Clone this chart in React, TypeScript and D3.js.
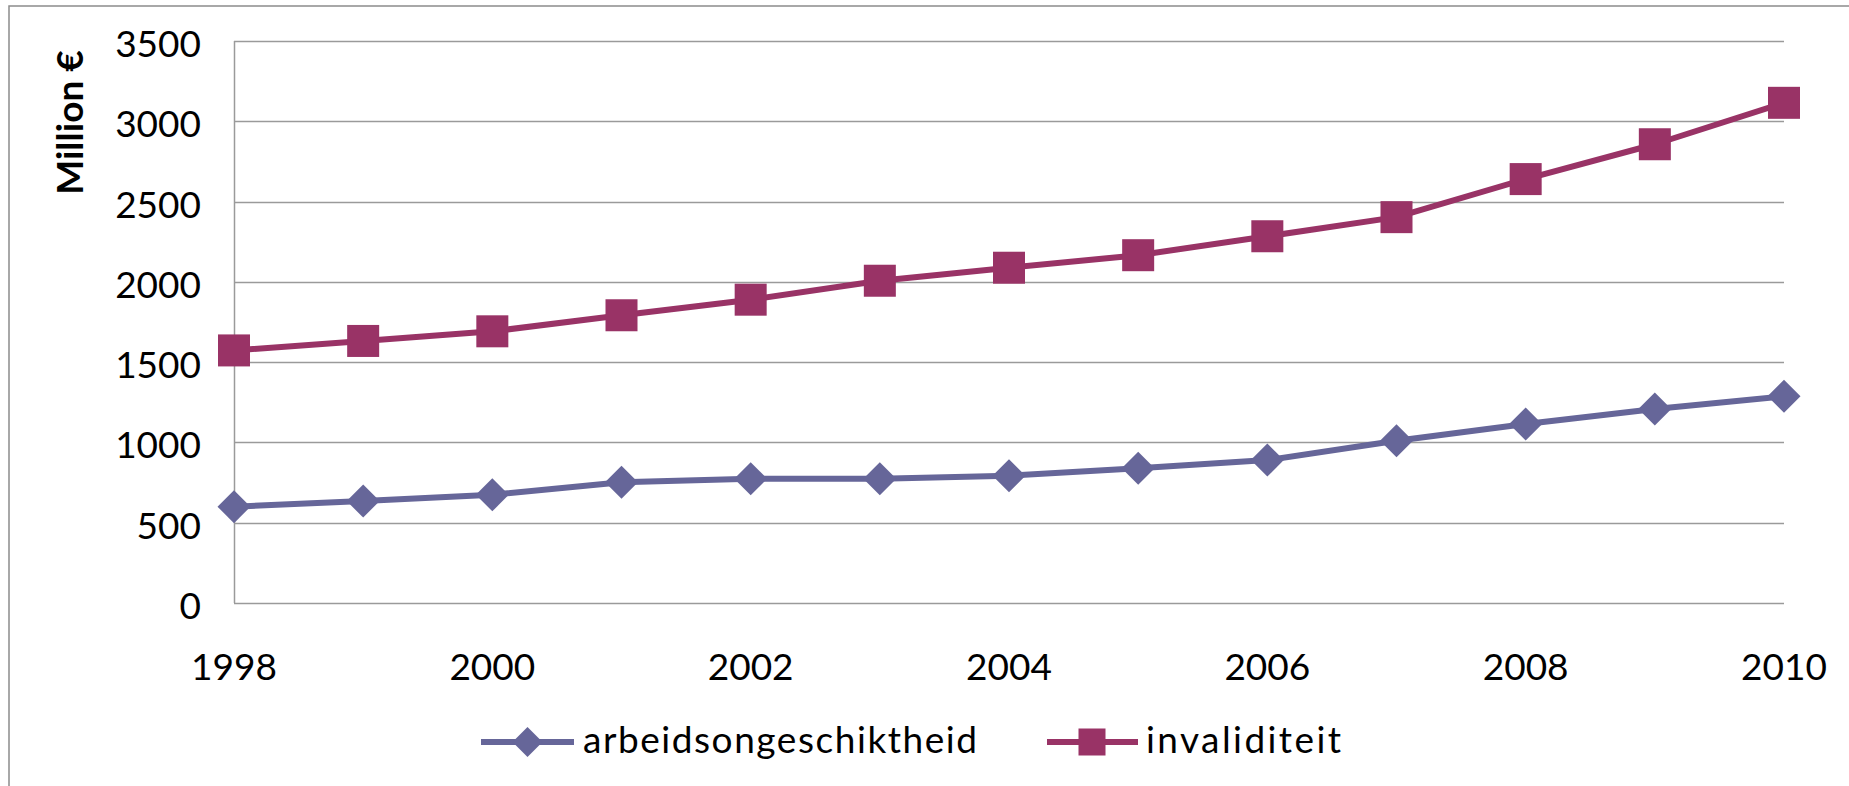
import React from "react";
import * as d3 from "d3";

// Yearly spending, million euro
const years = [1998, 1999, 2000, 2001, 2002, 2003, 2004, 2005, 2006, 2007, 2008, 2009, 2010];
const arbeidsongeschiktheid = [600, 635, 674, 752, 774, 774, 793, 839, 890, 1011, 1115, 1208, 1287];
const invaliditeit = [1573, 1632, 1692, 1792, 1889, 2007, 2088, 2166, 2284, 2403, 2640, 2857, 3115];
const yTicks = [0, 500, 1000, 1500, 2000, 2500, 3000, 3500];
const xTicks = [1998, 2000, 2002, 2004, 2006, 2008, 2010];
const seriesNames = ["arbeidsongeschiktheid", "invaliditeit"];

const W = 1849;
const H = 786;
const FONT = "Lato, 'Open Sans', sans-serif";
const GRID = "#9a9a9a";
const C_DIAMOND = "#666699";
const C_SQUARE = "#993366";

const plot = { left: 234, right: 1784, top: 41, bottom: 603 };

const x = d3.scaleLinear().domain([years[0], years[years.length - 1]]).range([plot.left, plot.right]);
const y = d3.scaleLinear().domain([0, 3500]).range([plot.bottom, plot.top]);

const lineGen = d3
  .line<[number, number]>()
  .x((d) => x(d[0]))
  .y((d) => y(d[1]));

const diamondPath = (cx: number, cy: number, r: number) =>
  `M${cx},${cy - r}L${cx + r},${cy}L${cx},${cy + r}L${cx - r},${cy}Z`;

export default function App() {
  const ptsA = years.map((yr, i) => [yr, arbeidsongeschiktheid[i]] as [number, number]);
  const ptsI = years.map((yr, i) => [yr, invaliditeit[i]] as [number, number]);
  const sq = 32;
  const dr = 16.5;
  const legendY = 742;

  return (
    <svg
      width={W}
      height={H}
      viewBox={`0 0 ${W} ${H}`}
      style={{ position: "absolute", left: 0, top: 0, background: "#fff" }}
    >
      {/* chart frame */}
      <rect x={9} y={6} width={W + 20} height={H + 20} fill="#fff" stroke="#8c8c8c" strokeWidth={1.5} />

      {/* horizontal gridlines and value axis labels */}
      {yTicks.map((t) => (
        <g key={t}>
          <line x1={plot.left} x2={plot.right} y1={Math.round(y(t)) + 0.5} y2={Math.round(y(t)) + 0.5} stroke={GRID} strokeWidth={1.5} />
          <text x={201} y={y(t) + 16} textAnchor="end" fontFamily={FONT} fontSize={37} fill="#000">
            {t}
          </text>
        </g>
      ))}
      <line x1={plot.left + 0.5} x2={plot.left + 0.5} y1={plot.top} y2={plot.bottom} stroke={GRID} strokeWidth={1.5} />

      {/* year labels */}
      {xTicks.map((t) => (
        <text key={t} x={x(t)} y={680} textAnchor="middle" fontFamily={FONT} fontSize={37} fill="#000">
          {t}
        </text>
      ))}

      {/* axis title */}
      <text
        transform={`translate(83,${(50 + 195) / 2}) rotate(-90)`}
        textAnchor="middle"
        fontFamily={FONT}
        fontWeight="bold"
        fontSize={37}
        fill="#000"
      >
        Million €
      </text>

      {/* series: arbeidsongeschiktheid */}
      <path d={lineGen(ptsA) || ""} fill="none" stroke={C_DIAMOND} strokeWidth={6} strokeLinejoin="round" />
      {ptsA.map((p) => (
        <path key={p[0]} d={diamondPath(x(p[0]), y(p[1]), dr)} fill={C_DIAMOND} />
      ))}

      {/* series: invaliditeit */}
      <path d={lineGen(ptsI) || ""} fill="none" stroke={C_SQUARE} strokeWidth={6} strokeLinejoin="round" />
      {ptsI.map((p) => (
        <rect key={p[0]} x={x(p[0]) - sq / 2} y={y(p[1]) - sq / 2} width={sq} height={sq} fill={C_SQUARE} />
      ))}

      {/* legend */}
      <line x1={481} x2={574} y1={legendY} y2={legendY} stroke={C_DIAMOND} strokeWidth={6} />
      <path d={diamondPath(527.5, legendY, 15)} fill={C_DIAMOND} />
      <text x={583} y={753} fontFamily={FONT} fontSize={37} fill="#000" textLength={394} lengthAdjust="spacing">
        {seriesNames[0]}
      </text>

      <line x1={1047} x2={1138} y1={legendY} y2={legendY} stroke={C_SQUARE} strokeWidth={6} />
      <rect x={1092 - 13.5} y={legendY - 13.5} width={27} height={27} fill={C_SQUARE} />
      <text x={1146} y={753} fontFamily={FONT} fontSize={37} fill="#000" textLength={195} lengthAdjust="spacing">
        {seriesNames[1]}
      </text>
    </svg>
  );
}
